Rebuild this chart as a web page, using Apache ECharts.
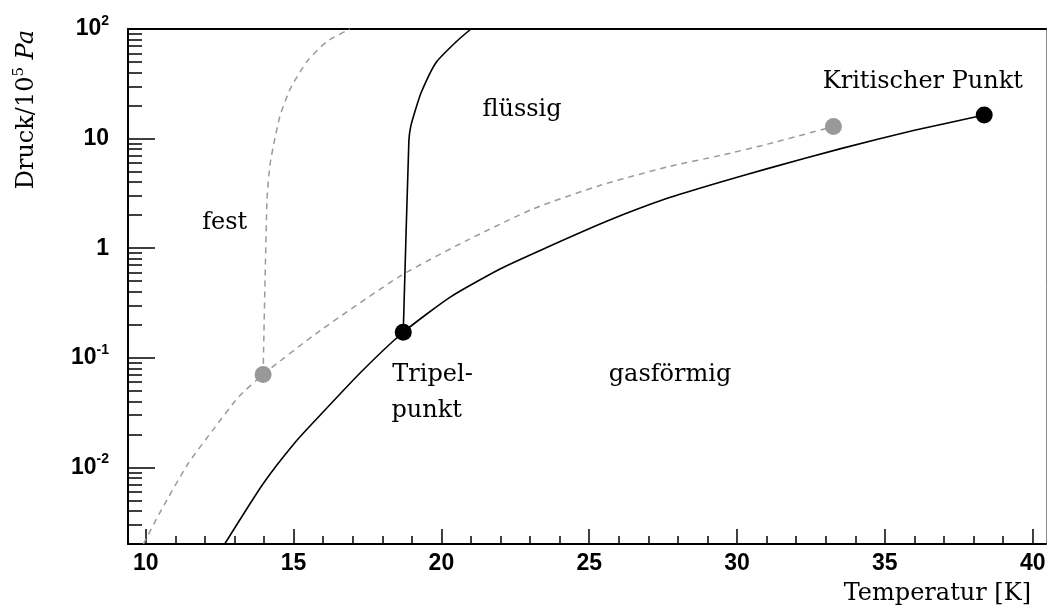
<!DOCTYPE html>
<html>
<head>
<meta charset="utf-8">
<script src="https://cdn.jsdelivr.net/npm/echarts@6/dist/echarts.min.js"></script>
<style>
  html, body { margin: 0; padding: 0; background: #fff; }
  #chart { width: 1050px; height: 611px; }
</style>
</head>
<body>
<div id="chart"></div>
<script>
// Phase boundaries of deuterium (solid black) and hydrogen (dashed grey)
// Temperature in K, pressure in units of 10^5 Pa.

// D2: sublimation + vapour pressure curve, triple point -> critical point
const d2VaporT = [12.67, 13.97, 15.05, 15.95, 17.30, 18.71, 20.30, 22.00, 23.58, 25.61, 27.64, 29.45, 31.03, 33.51, 36.00, 38.36];
const d2VaporP = [0.0020, 0.0071, 0.0169, 0.0310, 0.075, 0.171, 0.358, 0.650, 1.02, 1.77, 2.85, 4.02, 5.32, 8.10, 11.9, 16.4];

// D2: melting curve
const d2MeltT = [18.71, 18.90, 18.96, 19.10, 19.32, 19.82, 20.50, 21.00];
const d2MeltP = [0.171, 9.5, 12.8, 17.5, 26.5, 49.5, 76.5, 100];

// H2: sublimation + vapour pressure curve
const h2VaporT = [9.92, 10.53, 11.43, 12.34, 13.13, 13.97, 15.90, 18.62, 20.87, 23.13, 25.38, 27.64, 29.45, 31.03, 33.26];
const h2VaporP = [0.0020, 0.0041, 0.0108, 0.0232, 0.0436, 0.0705, 0.177, 0.56, 1.18, 2.30, 3.75, 5.51, 7.03, 8.90, 12.9];

// H2: melting curve
const h2MeltT = [13.97, 14.10, 14.20, 14.35, 14.55, 14.90, 15.45, 16.13, 16.90];
const h2MeltP = [0.0705, 2.73, 5.7, 9.5, 16.4, 28.8, 50.4, 76.9, 100];

// Triple and critical points
const d2PointsT = [18.71, 38.36];
const d2PointsP = [0.171, 16.4];
const h2PointsT = [13.97, 33.26];
const h2PointsP = [0.0705, 12.9];

// Region names and where they sit (T, p)
const regionNames = ['fest', 'flüssig', 'gasförmig', 'Tripel-', 'punkt', 'Kritischer Punkt'];
const regionT = [11.91, 21.39, 25.66, 18.34, 18.31, 32.90];
const regionP = [1.72, 18.5, 0.0704, 0.0704, 0.033, 32.7];

// Axis ticks and labels
const xTicks = [10, 15, 20, 25, 30, 35, 40];
const xMinorTicks = [11, 12, 13, 14, 16, 17, 18, 19, 21, 22, 23, 24, 26, 27, 28, 29, 31, 32, 33, 34, 36, 37, 38, 39];
const yTicks = [0.01, 0.1, 1, 10, 100];
const yTickBase = ['10', '10', '1', '10', '10'];
const yTickExp = ['-2', '-1', '', '', '2'];
const yMinorTicks = [0.003, 0.004, 0.005, 0.006, 0.007, 0.008, 0.009,
  0.02, 0.03, 0.04, 0.05, 0.06, 0.07, 0.08, 0.09,
  0.2, 0.3, 0.4, 0.5, 0.6, 0.7, 0.8, 0.9,
  2, 3, 4, 5, 6, 7, 8, 9,
  20, 30, 40, 50, 60, 70, 80, 90];
const xTitle = 'Temperatur [K]';

const X_MIN = 9.4, X_MAX = 40.45, Y_MIN = 0.002, Y_MAX = 100;
const SERIF = '"DejaVu Serif", serif';
const SANS = '"Liberation Sans", Arial, sans-serif';

const pairs = (a, b) => a.map((v, i) => [v, b[i]]);

const chart = echarts.init(document.getElementById('chart'), null, { renderer: 'canvas' });

const plain = { axisLine: { show: false }, axisTick: { show: false }, axisLabel: { show: false }, splitLine: { show: false } };

const lineBase = { type: 'line', showSymbol: false, symbol: 'none', smooth: 0.2, silent: true };

const option = {
  animation: false,
  backgroundColor: '#fff',
  grid: { left: 128, right: 4, top: 29, bottom: 67, containLabel: false },
  xAxis: [
    {
      type: 'value', min: X_MIN, max: X_MAX, position: 'bottom',
      axisLine: { show: true, onZero: false, lineStyle: { color: '#000', width: 2 } },
      axisTick: { show: true, inside: true, length: 15, customValues: xTicks, lineStyle: { color: '#000', width: 1.5 } },
      axisLabel: { show: true, customValues: xTicks, fontFamily: SANS, fontWeight: 'bold', fontSize: 23, color: '#000', margin: 8 },
      splitLine: { show: false }
    },
    Object.assign({}, plain, {
      type: 'value', min: X_MIN, max: X_MAX, position: 'bottom',
      axisTick: { show: true, inside: true, length: 8, customValues: xMinorTicks, lineStyle: { color: '#000', width: 1.5 } }
    }),
    Object.assign({}, plain, {
      type: 'value', min: X_MIN, max: X_MAX, position: 'top',
      axisLine: { show: true, onZero: false, lineStyle: { color: '#000', width: 2 } }
    })
  ],
  yAxis: [
    {
      type: 'log', logBase: 10, min: Y_MIN, max: Y_MAX, position: 'left',
      axisLine: { show: true, onZero: false, lineStyle: { color: '#000', width: 2 } },
      axisTick: { show: true, inside: true, length: 27, customValues: yTicks, lineStyle: { color: '#000', width: 1.5 } },
      axisLabel: {
        show: true, customValues: yTicks, margin: 19,
        formatter: function (v) {
          let i = yTicks.findIndex(t => Math.abs(Math.log10(t) - Math.log10(v)) < 1e-6);
          if (i < 0) return '';
          return '{b|' + yTickBase[i] + '}' + (yTickExp[i] ? '{s|' + yTickExp[i] + '}' : '');
        },
        rich: {
          b: { fontFamily: SANS, fontWeight: 'bold', fontSize: 23, color: '#000', lineHeight: 30 },
          s: { fontFamily: SANS, fontWeight: 'bold', fontSize: 14, color: '#000', lineHeight: 14, verticalAlign: 'top' }
        }
      },
      splitLine: { show: false }
    },
    Object.assign({}, plain, {
      type: 'log', logBase: 10, min: Y_MIN, max: Y_MAX, position: 'left',
      axisTick: { show: true, inside: true, length: 14, customValues: yMinorTicks, lineStyle: { color: '#000', width: 1.5 } }
    }),
    Object.assign({}, plain, {
      type: 'log', logBase: 10, min: Y_MIN, max: Y_MAX, position: 'right',
      axisLine: { show: true, onZero: false, lineStyle: { color: '#8a8a8a', width: 1 } }
    })
  ],
  series: [
    Object.assign({}, lineBase, {
      name: 'H2 Dampfdruck', data: pairs(h2VaporT, h2VaporP),
      lineStyle: { color: '#9a9a9a', width: 1.5, type: [6, 5] }, z: 2
    }),
    Object.assign({}, lineBase, {
      name: 'H2 Schmelzkurve', data: pairs(h2MeltT, h2MeltP),
      lineStyle: { color: '#9a9a9a', width: 1.5, type: [6, 5] }, z: 2
    }),
    Object.assign({}, lineBase, {
      name: 'D2 Dampfdruck', data: pairs(d2VaporT, d2VaporP),
      lineStyle: { color: '#000', width: 1.6 }, z: 3
    }),
    Object.assign({}, lineBase, {
      name: 'D2 Schmelzkurve', data: pairs(d2MeltT, d2MeltP),
      lineStyle: { color: '#000', width: 1.6 }, z: 3
    }),
    {
      name: 'H2 Punkte', type: 'scatter', data: pairs(h2PointsT, h2PointsP), symbol: 'circle', symbolSize: 17,
      itemStyle: { color: '#999999', opacity: 1 }, silent: true, z: 4
    },
    {
      name: 'D2 Punkte', type: 'scatter', data: pairs(d2PointsT, d2PointsP), symbol: 'circle', symbolSize: 17,
      itemStyle: { color: '#000', opacity: 1 }, silent: true, z: 5
    },
    {
      name: 'Bereiche', type: 'scatter', data: pairs(regionT, regionP), symbolSize: 0, silent: true,
      itemStyle: { opacity: 1 },
      label: {
        show: true, position: 'right', distance: 0,
        formatter: p => regionNames[p.dataIndex],
        fontFamily: SERIF, fontSize: 24, color: '#000', opacity: 1
      }, z: 6
    }
  ],
  graphic: [
    {
      type: 'text', x: 27, y: 30, rotation: Math.PI / 2,
      style: {
        text: '{n|Druck/10}{s|5}{n| }{i|Pa}',
        textAlign: 'right', textVerticalAlign: 'middle',
        rich: {
          n: { fontFamily: SERIF, fontSize: 24, fill: '#000', lineHeight: 30 },
          s: { fontFamily: SERIF, fontSize: 15, fill: '#000', lineHeight: 16, verticalAlign: 'top' },
          i: { fontFamily: SERIF, fontSize: 24, fontStyle: 'italic', fill: '#000', lineHeight: 30 }
        }
      }
    },
    {
      type: 'text', x: 1031, y: 606,
      style: {
        text: xTitle, textAlign: 'right', textVerticalAlign: 'bottom',
        font: '24px ' + SERIF, fill: '#000'
      }
    }
  ]
};

chart.setOption(option);
</script>
</body>
</html>
